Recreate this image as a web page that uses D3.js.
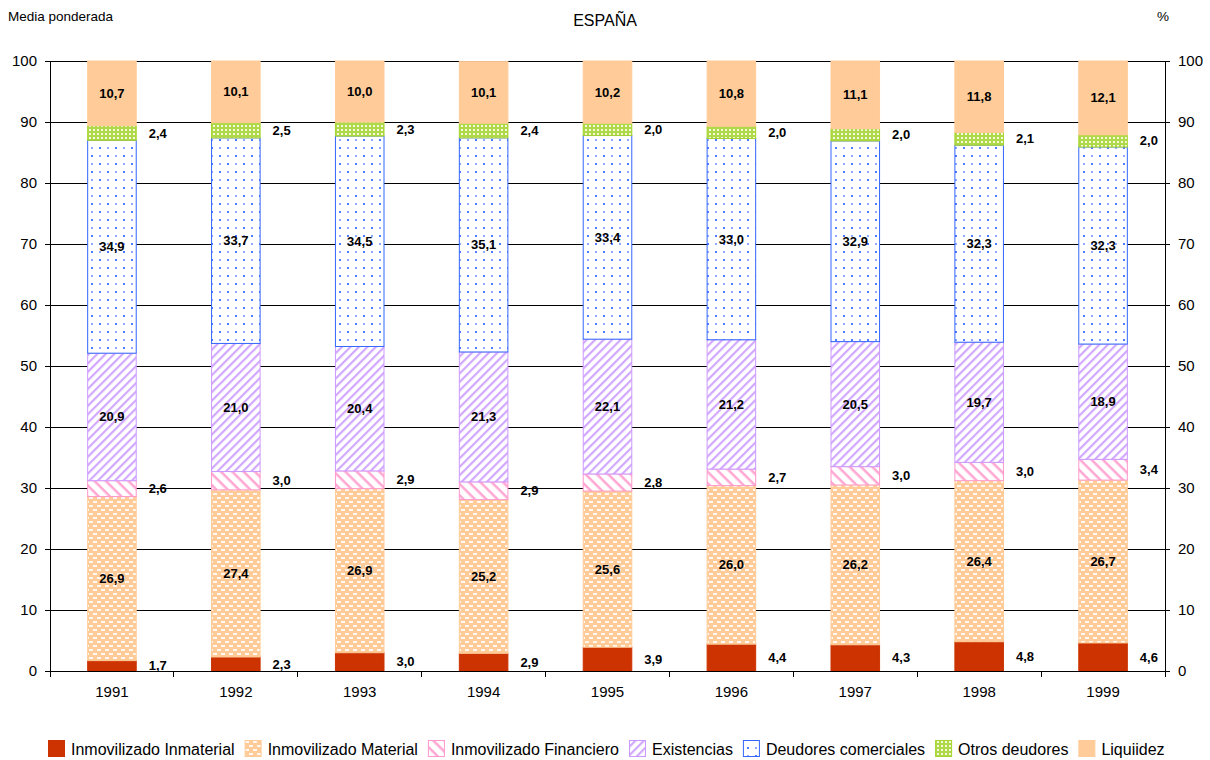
<!DOCTYPE html>
<html>
<head>
<meta charset="utf-8">
<script src="https://cdn.jsdelivr.net/npm/d3@7"></script>
<style>
  body { margin: 0; background: #fff; }
  svg { font-family: "Liberation Sans", Arial, sans-serif; }
</style>
</head>
<body>
<div id="chart"></div>
<script>
var years = ["1991","1992","1993","1994","1995","1996","1997","1998","1999"];
var inmaterial  = [1.7, 2.3, 3.0, 2.9, 3.9, 4.4, 4.3, 4.8, 4.6];
var material    = [26.9, 27.4, 26.9, 25.2, 25.6, 26.0, 26.2, 26.4, 26.7];
var financiero  = [2.6, 3.0, 2.9, 2.9, 2.8, 2.7, 3.0, 3.0, 3.4];
var existencias = [20.9, 21.0, 20.4, 21.3, 22.1, 21.2, 20.5, 19.7, 18.9];
var deudores    = [34.9, 33.7, 34.5, 35.1, 33.4, 33.0, 32.9, 32.3, 32.3];
var otros       = [2.4, 2.5, 2.3, 2.4, 2.0, 2.0, 2.0, 2.1, 2.0];
var liquidez    = [10.7, 10.1, 10.0, 10.1, 10.2, 10.8, 11.1, 11.8, 12.1];
var yTicks = [0, 10, 20, 30, 40, 50, 60, 70, 80, 90, 100];

(function() {
  var series = [
    {name: "Inmovilizado Inmaterial", values: inmaterial, fill: "#CC3300", stroke: "#CC3300", outside: true},
    {name: "Inmovilizado Material", values: material, fill: "url(#pMat)", stroke: "#FFCC99", outside: false},
    {name: "Inmovilizado Financiero", values: financiero, fill: "url(#pFin)", stroke: "#FF99CC", outside: true},
    {name: "Existencias", values: existencias, fill: "url(#pExi)", stroke: "#CC99FF", outside: false},
    {name: "Deudores comerciales", values: deudores, fill: "url(#pDeu)", stroke: "#3366FF", outside: false},
    {name: "Otros deudores", values: otros, fill: "url(#pOtr)", stroke: "#A6D42B", outside: true},
    {name: "Liquiidez", values: liquidez, fill: "#FFCC99", stroke: "#FFCC99", outside: false}
  ];

  var width = 1210, height = 760;
  var mLeft = 50, mRight = 1165, mTop = 61, mBottom = 671;

  var svg = d3.select("#chart").append("svg")
      .attr("width", width)
      .attr("height", height);

  // fill patterns
  var defs = svg.append("defs");

  var pm = defs.append("pattern").attr("id", "pMat").attr("patternUnits", "userSpaceOnUse")
      .attr("width", 8).attr("height", 8);
  pm.append("rect").attr("width", 8).attr("height", 8).attr("fill", "#FFCC99");
  pm.append("rect").attr("x", 1).attr("y", 1).attr("width", 4).attr("height", 2).attr("fill", "#fff").attr("opacity", 0.85);
  pm.append("rect").attr("x", 5).attr("y", 5).attr("width", 4).attr("height", 2).attr("fill", "#fff").attr("opacity", 0.85);
  pm.append("rect").attr("x", -3).attr("y", 5).attr("width", 4).attr("height", 2).attr("fill", "#fff").attr("opacity", 0.85);

  var pf = defs.append("pattern").attr("id", "pFin").attr("patternUnits", "userSpaceOnUse")
      .attr("width", 8).attr("height", 8).attr("patternTransform", "rotate(45)");
  pf.append("rect").attr("width", 8).attr("height", 8).attr("fill", "#fff");
  pf.append("rect").attr("width", 8).attr("height", 2.5).attr("fill", "#FFA6D2");

  var pe = defs.append("pattern").attr("id", "pExi").attr("patternUnits", "userSpaceOnUse")
      .attr("width", 6).attr("height", 6).attr("patternTransform", "rotate(-45)");
  pe.append("rect").attr("width", 6).attr("height", 6).attr("fill", "#fff");
  pe.append("rect").attr("width", 6).attr("height", 2.2).attr("fill", "#D2A8FF");

  var pd = defs.append("pattern").attr("id", "pDeu").attr("patternUnits", "userSpaceOnUse")
      .attr("width", 16).attr("height", 16);
  pd.append("rect").attr("width", 16).attr("height", 16).attr("fill", "#fff");
  pd.append("rect").attr("x", 3).attr("y", 3).attr("width", 2).attr("height", 2).attr("fill", "#4D7AFF");
  pd.append("rect").attr("x", 11).attr("y", 11).attr("width", 2).attr("height", 2).attr("fill", "#4D7AFF");
  pd.append("rect").attr("x", 11).attr("y", 3).attr("width", 2).attr("height", 2).attr("fill", "#8FAAFF");
  pd.append("rect").attr("x", 3).attr("y", 11).attr("width", 2).attr("height", 2).attr("fill", "#8FAAFF");

  var po = defs.append("pattern").attr("id", "pOtr").attr("patternUnits", "userSpaceOnUse")
      .attr("width", 4).attr("height", 4);
  po.append("rect").attr("width", 4).attr("height", 4).attr("fill", "#B0D94A");
  po.append("rect").attr("x", 1).attr("y", 1).attr("width", 2).attr("height", 2).attr("fill", "#F2F9DC");

  var x = d3.scaleBand().domain(years).range([mLeft, mRight]).paddingInner(0.6).paddingOuter(0.3);
  var y = d3.scaleLinear().domain([0, 100]).range([mBottom, mTop]);

  // gridlines
  svg.append("g").selectAll("line").data(yTicks.filter(function(d) { return d > 0; }))
    .enter().append("line")
      .attr("x1", mLeft).attr("x2", mRight)
      .attr("y1", function(d) { return Math.round(y(d)) + 0.5; })
      .attr("y2", function(d) { return Math.round(y(d)) + 0.5; })
      .attr("stroke", "#000").attr("stroke-width", 1);

  // stacked bars
  var rows = years.map(function(yr, i) {
    var r = {year: yr};
    series.forEach(function(s) { r[s.name] = s.values[i]; });
    return r;
  });
  var stack = d3.stack().keys(series.map(function(s) { return s.name; }))(rows);

  stack.forEach(function(layer, k) {
    var s = series[k];
    svg.append("g").selectAll("rect").data(layer).enter().append("rect")
      .attr("x", function(d) { return x(d.data.year) + 0.5; })
      .attr("width", x.bandwidth() - 1)
      .attr("y", function(d) { return y(Math.min(d[1], 100)); })
      .attr("height", function(d) { return y(d[0]) - y(Math.min(d[1], 100)); })
      .attr("fill", s.fill)
      .attr("stroke", s.stroke)
      .attr("stroke-width", 1);
  });

  // value labels
  stack.forEach(function(layer, k) {
    var s = series[k];
    svg.append("g").selectAll("text").data(layer).enter().append("text")
      .attr("x", function(d) {
        return s.outside ? x(d.data.year) + x.bandwidth() + 12 : x(d.data.year) + x.bandwidth() / 2;
      })
      .attr("y", function(d) { return (y(d[0]) + y(Math.min(d[1], 100))) / 2; })
      .attr("dy", "0.35em")
      .attr("text-anchor", s.outside ? "start" : "middle")
      .attr("font-size", 13)
      .attr("font-weight", "bold")
      .text(function(d) { return d3.format(".1f")(d[1] - d[0]).replace(".", ","); });
  });

  // axes
  var axL = svg.append("g").attr("transform", "translate(" + mLeft + ",0)")
      .call(d3.axisLeft(y).tickValues(yTicks).tickSize(5).tickPadding(8));
  var axR = svg.append("g").attr("transform", "translate(" + mRight + ",0)")
      .call(d3.axisRight(y).tickValues(yTicks).tickSize(5).tickPadding(8));
  [axL, axR].forEach(function(a) {
    a.select(".domain").attr("stroke", "#000");
    a.selectAll("text").attr("font-size", 15)
      .attr("font-family", "Liberation Sans, Arial, sans-serif").attr("fill", "#000");
  });

  var step = x.step();
  var axB = svg.append("g").attr("transform", "translate(0," + mBottom + ")");
  axB.append("line").attr("x1", mLeft).attr("x2", mRight).attr("stroke", "#000").attr("shape-rendering", "crispEdges");
  axB.selectAll(".tk").data(d3.range(years.length + 1)).enter().append("line")
      .attr("x1", function(i) { return mLeft + i * step; })
      .attr("x2", function(i) { return mLeft + i * step; })
      .attr("y1", 0).attr("y2", 6).attr("stroke", "#000").attr("shape-rendering", "crispEdges");
  axB.selectAll(".yr").data(years).enter().append("text")
      .attr("x", function(d) { return x(d) + x.bandwidth() / 2; })
      .attr("y", 26)
      .attr("text-anchor", "middle")
      .attr("font-size", 15)
      .text(function(d) { return d; });

  // titles
  svg.append("text").attr("x", 8).attr("y", 21).attr("font-size", 13.5).text("Media ponderada");
  svg.append("text").attr("x", 605).attr("y", 26).attr("font-size", 16).attr("text-anchor", "middle").text("ESPAÑA");
  svg.append("text").attr("x", 1157).attr("y", 21).attr("font-size", 13.5).text("%");

  // legend
  var lx = 48;
  var legend = svg.append("g");
  series.forEach(function(s) {
    legend.append("rect").attr("x", lx + 0.5).attr("y", 740.5).attr("width", 16).attr("height", 16)
      .attr("fill", s.fill).attr("stroke", s.stroke);
    var t = legend.append("text").attr("x", lx + 23).attr("y", 755).attr("font-size", 16).text(s.name);
    lx += 23 + t.node().getComputedTextLength() + 10;
  });
})();
</script>
</body>
</html>
